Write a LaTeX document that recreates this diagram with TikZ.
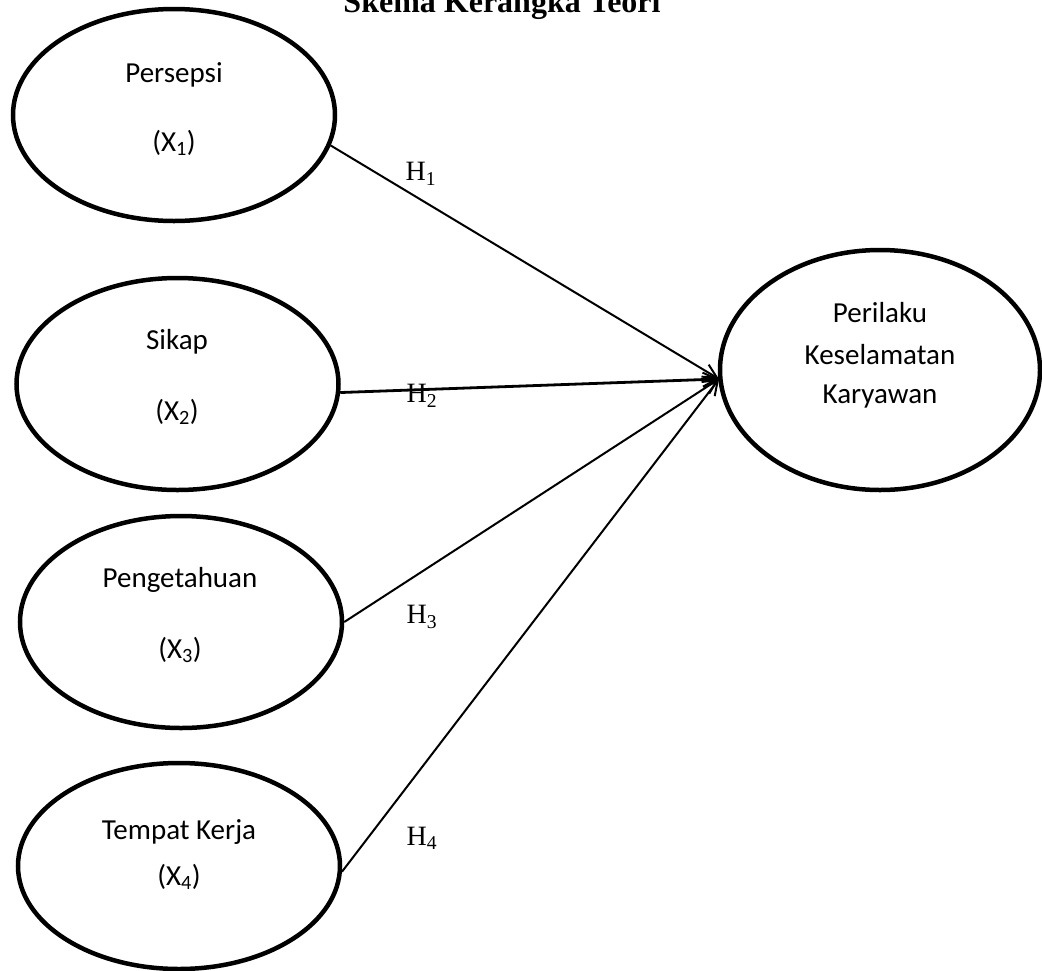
\documentclass[tikz,border=0pt]{standalone}
\usepackage{fontspec}
\setmainfont{Liberation Serif}
\newfontfamily\carlfont{Carlito}
\usetikzlibrary{shapes.geometric,arrows.meta}
\begin{document}
\begin{tikzpicture}[x=1pt,y=-1pt,
  var/.style={ellipse, draw, line width=4.5pt, inner sep=0pt, minimum width=322pt, minimum height=212pt},
  lbl/.style={font=\carlfont\fontsize{29}{35}\selectfont, inner sep=0pt, anchor=center},
  hyp/.style={font=\fontsize{28}{32}\selectfont, inner sep=0pt, anchor=center},
  link/.style={line width=2pt, -{Straight Barb[length=14pt,width=14pt,line width=2pt]}}
]
\useasboundingbox (0,0) rectangle (1042,970);
\node[font=\bfseries\fontsize{32}{38}\selectfont, anchor=base, inner sep=0pt] (title) at (502,12) {Skema Kerangka Teori};

\node[var] (X1) at (174,115) {};
\node[var] (X2) at (177.5,384) {};
\node[var] (X3) at (181,622) {};
\node[var, minimum height=206pt] (X4) at (179,866) {};
\node[var, minimum width=320pt, minimum height=240pt] (Y) at (880,370) {};

\node[lbl] (t1) at (174,75) {Persepsi};
\node[lbl] (s1) at (174,143) {(X\textsubscript{1})};
\node[lbl] (t2) at (177,342) {Sikap};
\node[lbl] (s2) at (177,412) {(X\textsubscript{2})};
\node[lbl] (t3) at (180,580) {Pengetahuan};
\node[lbl] (s3) at (180,650) {(X\textsubscript{3})};
\node[lbl] (t4) at (179,832) {Tempat Kerja};
\node[lbl] (s4) at (179,877) {(X\textsubscript{4})};
\node[lbl] (ty1) at (880,313) {Perilaku};
\node[lbl] (ty2) at (880,355) {Keselamatan};
\node[lbl] (ty3) at (880,397) {Karyawan};

\coordinate (tip) at (719,379);
\draw[link] (X1.-11) -- (tip);
\draw[link, line width=2.8pt] (X2.-3) -- (tip);
\draw[link] (X3.east) -- (tip);
\draw[link] (X4.-2) -- (tip);

\node[hyp] (h1) at (421,174) {H\textsubscript{1}};
\node[hyp] (h2) at (422,396) {H\textsubscript{2}};
\node[hyp] (h3) at (422,617) {H\textsubscript{3}};
\node[hyp] (h4) at (422,838) {H\textsubscript{4}};
\end{tikzpicture}
\end{document}
